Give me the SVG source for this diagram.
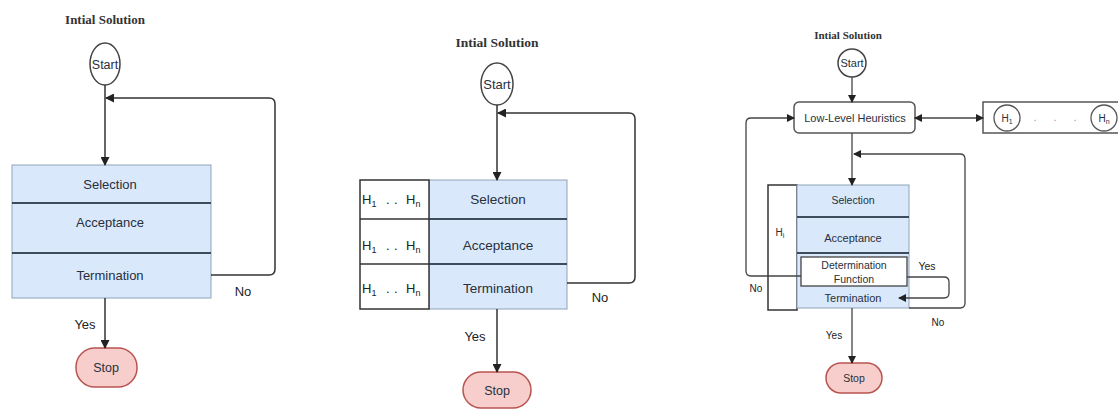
<svg xmlns="http://www.w3.org/2000/svg" width="1118" height="409" viewBox="0 0 1118 409">
<style>
.title{font-family:"Liberation Serif",serif;font-weight:bold;fill:#333}
.lbl{font-family:"Liberation Sans",Arial,sans-serif;fill:#27303b;text-anchor:middle}
.yn{font-family:"Liberation Sans",Arial,sans-serif;fill:#222;text-anchor:middle}
.hh{font-family:"Liberation Sans",Arial,sans-serif;fill:#222;font-size:13px}
.term{fill:#fff;stroke:#444;stroke-width:1.5}
.stop{fill:#f8cecc;stroke:#b85450;stroke-width:1.5}
.blue{fill:#dae8fc;stroke:#8fa3ba;stroke-width:1}
.div{stroke:#3e4d5e;stroke-width:2}
.wcol{fill:#fff;stroke:#333;stroke-width:1.5}
.ln{fill:none;stroke:#333;stroke-width:1.5}
.ln3{fill:none;stroke:#444;stroke-width:1.3}
</style>
<defs>
<marker id="arr" markerUnits="userSpaceOnUse" markerWidth="9" markerHeight="9" refX="8" refY="4.5" orient="auto"><path d="M0,0 L9,4.5 L0,9 z" fill="#222"/></marker>
<marker id="arrs" markerUnits="userSpaceOnUse" markerWidth="8" markerHeight="8" refX="7" refY="4" orient="auto-start-reverse"><path d="M0,0 L8,4 L0,8 z" fill="#222"/></marker>
</defs>

<!-- Panel 1 -->
<g id="p1-title"><text class="title" x="105" y="24" font-size="13" text-anchor="middle">Intial Solution</text></g>
<g id="p1-start"><ellipse class="term" cx="105" cy="64" rx="15" ry="21"/><text class="lbl" x="105" y="68.5" font-size="12.5">Start</text></g>
<g id="p1-box">
<rect class="blue" x="12" y="165" width="199" height="133"/>
<line class="div" x1="12" y1="203" x2="211" y2="203"/>
<line class="div" x1="12" y1="253" x2="211" y2="253"/>
<text class="lbl" x="110" y="189" font-size="13">Selection</text>
<text class="lbl" x="110" y="227" font-size="13">Acceptance</text>
<text class="lbl" x="110" y="280" font-size="13">Termination</text>
</g>
<g id="p1-stop"><rect class="stop" x="76" y="348" width="61" height="39" rx="19" ry="19"/><text class="lbl" x="106" y="372" font-size="12.5">Stop</text></g>
<g id="p1-connectors">
<line class="ln" x1="105" y1="85" x2="105" y2="165" marker-end="url(#arr)"/>
<path class="ln" d="M211,275 H269 Q275,275 275,269 V104 Q275,98 269,98 H106" marker-end="url(#arr)"/>
<line class="ln" x1="105" y1="298" x2="105" y2="348" marker-end="url(#arr)"/>
<text class="yn" x="243" y="296" font-size="13">No</text>
<text class="yn" x="85" y="329" font-size="13">Yes</text>
</g>

<!-- Panel 2 -->
<g id="p2-title"><text class="title" x="497" y="47" font-size="13.5" text-anchor="middle">Intial Solution</text></g>
<g id="p2-start"><ellipse class="term" cx="497" cy="84" rx="16" ry="21"/><text class="lbl" x="497" y="88.5" font-size="13">Start</text></g>
<g id="p2-box">
<rect class="blue" x="429" y="180" width="138" height="129"/>
<line class="div" x1="429" y1="219" x2="567" y2="219"/>
<line class="div" x1="429" y1="264" x2="567" y2="264"/>
<rect class="wcol" x="360" y="180" width="69" height="129"/>
<line class="ln" x1="360" y1="219" x2="429" y2="219"/>
<line class="ln" x1="360" y1="264" x2="429" y2="264"/>
<text class="lbl" x="498" y="204" font-size="13.5">Selection</text>
<text class="lbl" x="498" y="250" font-size="13.5">Acceptance</text>
<text class="lbl" x="498" y="293" font-size="13.5">Termination</text>
<text class="hh" x="362" y="204">H<tspan font-size="9" dy="3">1</tspan><tspan x="386" dy="-3">.</tspan><tspan x="394">.</tspan><tspan x="406">H</tspan><tspan font-size="9" dy="3">n</tspan></text>
<text class="hh" x="362" y="250">H<tspan font-size="9" dy="3">1</tspan><tspan x="386" dy="-3">.</tspan><tspan x="394">.</tspan><tspan x="406">H</tspan><tspan font-size="9" dy="3">n</tspan></text>
<text class="hh" x="362" y="293">H<tspan font-size="9" dy="3">1</tspan><tspan x="386" dy="-3">.</tspan><tspan x="394">.</tspan><tspan x="406">H</tspan><tspan font-size="9" dy="3">n</tspan></text>
</g>
<g id="p2-stop"><rect class="stop" x="463" y="372" width="68" height="36" rx="18" ry="18"/><text class="lbl" x="497" y="395" font-size="12.5">Stop</text></g>
<g id="p2-connectors">
<line class="ln" x1="497" y1="105" x2="497" y2="180" marker-end="url(#arr)"/>
<path class="ln" d="M567,283 H629 Q635,283 635,277 V119 Q635,113 629,113 H498" marker-end="url(#arr)"/>
<line class="ln" x1="497" y1="309" x2="497" y2="372" marker-end="url(#arr)"/>
<text class="yn" x="600" y="302" font-size="13">No</text>
<text class="yn" x="475" y="341" font-size="13">Yes</text>
</g>

<!-- Panel 3 -->
<g id="p3-title"><text class="title" x="848" y="39" font-size="11" text-anchor="middle">Intial Solution</text></g>
<g id="p3-start"><circle class="term" cx="852" cy="63" r="14"/><text class="lbl" x="852" y="67" font-size="11">Start</text></g>
<g id="p3-llh"><rect x="794" y="102" width="121" height="31" rx="5" ry="5" fill="#fff" stroke="#555" stroke-width="1.5"/><text class="lbl" x="855" y="122" font-size="11">Low-Level Heuristics</text></g>
<g id="p3-hset">
<rect x="983" y="102" width="145" height="31" fill="#fff" stroke="#555" stroke-width="1.5"/>
<circle cx="1007" cy="118" r="13" fill="#fff" stroke="#555" stroke-width="1.3"/>
<text class="lbl" x="1007" y="122" font-size="10">H<tspan font-size="7" dy="2">1</tspan></text>
<text x="1035" y="121" font-family="Liberation Sans,Arial,sans-serif" font-size="11" fill="#999" text-anchor="middle">.<tspan x="1055">.</tspan><tspan x="1075">.</tspan></text>
<circle cx="1104" cy="118" r="13" fill="#fff" stroke="#555" stroke-width="1.3"/>
<text class="lbl" x="1104" y="122" font-size="10">H<tspan font-size="7" dy="2">n</tspan></text>
</g>
<g id="p3-box">
<rect class="wcol" x="768" y="185" width="29" height="125" stroke-width="1.3"/>
<text class="lbl" x="780" y="236" font-size="10">H<tspan font-size="7" dy="2">i</tspan></text>
<rect class="blue" x="797" y="185" width="112" height="123"/>
<line class="div" x1="797" y1="217" x2="909" y2="217"/>
<line class="div" x1="797" y1="253" x2="909" y2="253"/>
<text class="lbl" x="853" y="204" font-size="10.5">Selection</text>
<text class="lbl" x="853" y="242" font-size="11">Acceptance</text>
<text class="lbl" x="853" y="302" font-size="11">Termination</text>
</g>
<g id="p3-df"><rect x="801" y="257" width="106" height="29" fill="#fff" stroke="#444" stroke-width="1.3"/><text class="lbl" x="854" y="269" font-size="10.5">Determination</text><text class="lbl" x="854" y="283" font-size="10.5">Function</text></g>
<g id="p3-stop"><rect class="stop" x="826" y="363" width="56" height="30" rx="15" ry="15"/><text class="lbl" x="854" y="382" font-size="10.5">Stop</text></g>
<g id="p3-connectors">
<line class="ln3" x1="852" y1="77" x2="852" y2="102" marker-end="url(#arrs)"/>
<line class="ln3" x1="915" y1="118" x2="983" y2="118" marker-start="url(#arrs)" marker-end="url(#arrs)"/>
<path class="ln3" d="M801,276 H751 Q746,276 746,271 V123 Q746,118 751,118 H794" marker-end="url(#arrs)"/>
<line class="ln3" x1="852" y1="133" x2="852" y2="185" marker-end="url(#arrs)"/>
<path class="ln3" d="M909,308 H960 Q965,308 965,303 V159 Q965,154 960,154 H854" marker-end="url(#arrs)"/>
<path class="ln3" d="M907,277 H944 Q949,277 949,282 V293 Q949,298 944,298 H899" marker-end="url(#arrs)"/>
<line class="ln3" x1="852" y1="308" x2="852" y2="363" marker-end="url(#arrs)"/>
<text class="yn" x="927" y="270" font-size="10.5">Yes</text>
<text class="yn" x="938" y="326" font-size="10">No</text>
<text class="yn" x="756" y="292" font-size="10">No</text>
<text class="yn" x="834" y="339" font-size="10">Yes</text>
</g>
</svg>
